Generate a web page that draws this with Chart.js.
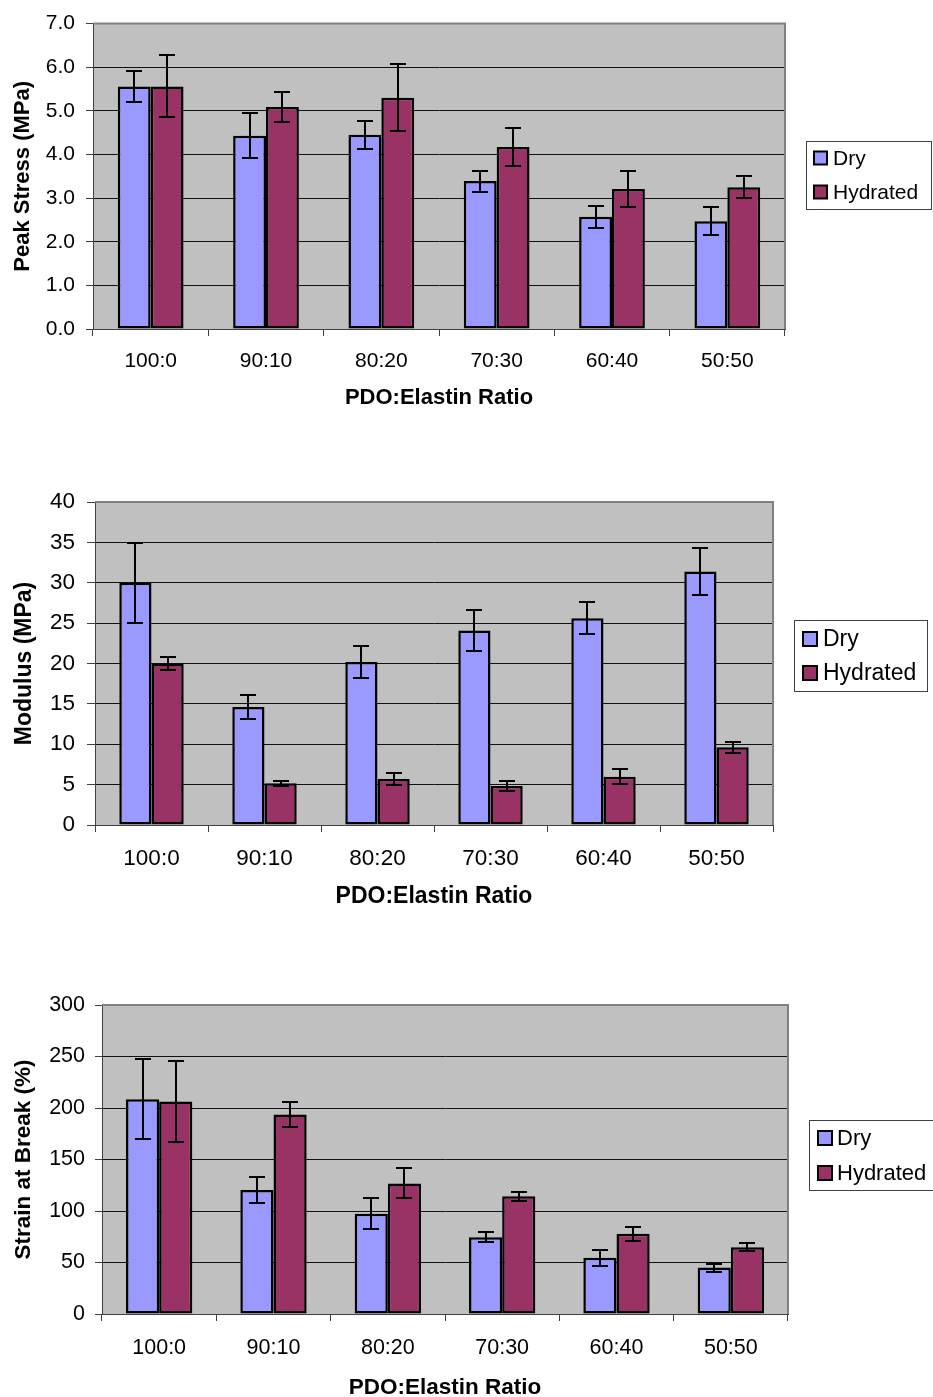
<!DOCTYPE html>
<html>
<head>
<meta charset="utf-8">
<script src="https://cdn.jsdelivr.net/npm/chart.js@4/dist/chart.umd.min.js"></script>
<style>
  html, body { margin: 0; padding: 0; background: #fff; overflow: hidden; }
  body { width: 933px; height: 1397px; position: relative; }
  .box { position: absolute; left: 0; width: 933px; }
  .box canvas { display: block; }
</style>
</head>
<body>
<div class="box" style="top:0;height:466px"><canvas id="stress"></canvas></div>
<div class="box" style="top:466px;height:466px"><canvas id="modulus"></canvas></div>
<div class="box" style="top:932px;height:480px"><canvas id="strain"></canvas></div>
<script>
// categories
const ratios = ['100:0', '90:10', '80:20', '70:30', '60:40', '50:50'];
const seriesNames = ['Dry', 'Hydrated'];

// peak stress (MPa)
const stressDry = [5.56, 4.43, 4.45, 3.39, 2.57, 2.47];
const stressDryErr = [0.35, 0.51, 0.32, 0.24, 0.25, 0.32];
const stressHyd = [5.56, 5.09, 5.30, 4.17, 3.21, 3.25];
const stressHydErr = [0.71, 0.35, 0.77, 0.44, 0.42, 0.25];

// modulus (MPa)
const modulusDry = [30.0, 14.6, 20.2, 24.1, 25.6, 31.4];
const modulusDryErr = [4.95, 1.5, 2.0, 2.55, 2.0, 2.9];
const modulusHyd = [20.0, 5.16, 5.70, 4.83, 5.99, 9.62];
const modulusHydErr = [0.75, 0.33, 0.8, 0.6, 0.9, 0.7];

// strain at break (%)
const strainDry = [208.5, 120.3, 97.3, 74.6, 54.5, 45.1];
const strainDryErr = [39, 12.7, 15.2, 4.9, 7.5, 3.9];
const strainHyd = [206.3, 193.6, 126.8, 114.2, 77.8, 64.9];
const strainHydErr = [39, 12.3, 14.6, 4.5, 7.1, 4.2];

const FONT = '"Liberation Sans", Arial, sans-serif';
const DRY = '#9999ff';
const HYD = '#993366';

const plotFrame = {
  id: 'plotFrame',
  beforeDraw(chart) {
    const a = chart.chartArea, ctx = chart.ctx;
    ctx.save();
    ctx.fillStyle = '#c0c0c0';
    ctx.fillRect(a.left, a.top, a.right - a.left, a.bottom - a.top);
    ctx.restore();
  },
  beforeDatasetsDraw(chart) {
    const a = chart.chartArea, ctx = chart.ctx;
    ctx.save();
    ctx.strokeStyle = '#808080';
    ctx.lineWidth = 2;
    ctx.beginPath();
    ctx.moveTo(a.left, a.top);
    ctx.lineTo(a.right, a.top);
    ctx.lineTo(a.right, a.bottom);
    ctx.stroke();
    ctx.restore();
  },
};

const errorBars = {
  id: 'errorBars',
  afterDatasetsDraw(chart) {
    const ctx = chart.ctx, y = chart.scales.y;
    ctx.save();
    ctx.strokeStyle = '#000';
    ctx.lineWidth = 2;
    chart.data.datasets.forEach((ds, di) => {
      chart.getDatasetMeta(di).data.forEach((bar, i) => {
        const v = ds.data[i], e = ds.errors[i];
        const top = Math.round(y.getPixelForValue(v + e)), bot = Math.round(y.getPixelForValue(v - e));
        const x = Math.round(bar.x);
        ctx.beginPath();
        ctx.moveTo(x, top); ctx.lineTo(x, bot);
        ctx.moveTo(x - 8, top); ctx.lineTo(x + 8, top);
        ctx.moveTo(x - 8, bot); ctx.lineTo(x + 8, bot);
        ctx.stroke();
      });
    });
    ctx.restore();
  },
};

const boxLegend = {
  id: 'boxLegend',
  afterDraw(chart, args, opts) {
    const ctx = chart.ctx;
    const { x, y, w, h, rows, swatchX, swatch, textX, size } = opts;
    ctx.save();
    ctx.fillStyle = '#fff';
    ctx.fillRect(x, y, w, h);
    ctx.strokeStyle = '#404040';
    ctx.lineWidth = 1;
    ctx.strokeRect(x + 0.5, y + 0.5, w, h);
    ctx.font = size + 'px ' + FONT;
    ctx.textBaseline = 'middle';
    chart.data.datasets.forEach((ds, i) => {
      const cy = rows[i];
      ctx.fillStyle = ds.backgroundColor;
      ctx.fillRect(swatchX, cy - swatch / 2, swatch, swatch);
      ctx.strokeStyle = '#000';
      ctx.lineWidth = 2;
      ctx.strokeRect(swatchX, cy - swatch / 2, swatch, swatch);
      ctx.fillStyle = '#000';
      ctx.fillText(ds.label, textX, cy + 1);
    });
    ctx.restore();
  },
};

function makeChart(id, cfg) {
  const H = cfg.height;
  return new Chart(document.getElementById(id), {
    type: 'bar',
    data: {
      labels: ratios,
      datasets: [
        { label: seriesNames[0], data: cfg.dry, errors: cfg.dryErr, backgroundColor: DRY },
        { label: seriesNames[1], data: cfg.hyd, errors: cfg.hydErr, backgroundColor: HYD },
      ].map((d) => ({ ...d, borderColor: '#000', borderWidth: 2.5, borderSkipped: false,
        categoryPercentage: cfg.catPct, barPercentage: 1.0 })),
    },
    options: {
      responsive: true,
      maintainAspectRatio: false,
      animation: false,
      events: [],
      layout: { padding: { left: 0, top: cfg.area.top, right: 933 - cfg.area.right, bottom: 0 } },
      scales: {
        x: {
          afterFit: (s) => { s.height = H - cfg.area.bottom; },
          grid: { display: true, offset: true, drawOnChartArea: false, tickLength: 7, tickColor: '#404040', tickWidth: 1 },
          border: { color: '#404040', width: 1 },
          ticks: { color: '#000', padding: cfg.xTickPad, font: { family: FONT, size: cfg.tickSize } },
          title: { display: true, text: 'PDO:Elastin Ratio', color: '#000',
            font: { family: FONT, size: cfg.titleSize, weight: 'bold' }, padding: { top: 0, bottom: cfg.xTitlePad } },
        },
        y: {
          min: 0,
          max: cfg.max,
          afterFit: (s) => { s.width = cfg.area.left; },
          grid: { color: '#111', lineWidth: 1, tickLength: cfg.yTickLen, tickColor: '#404040' },
          border: { color: '#404040', width: 1 },
          ticks: { stepSize: cfg.step, color: '#000', padding: cfg.yTickPad,
            font: { family: FONT, size: cfg.tickSize },
            callback: (v) => cfg.decimals ? v.toFixed(cfg.decimals) : v },
          title: { display: true, text: cfg.yTitle, color: '#000',
            font: { family: FONT, size: cfg.yTitleSize, weight: 'bold' }, padding: { top: cfg.yTitlePad, bottom: 0 } },
        },
      },
      plugins: {
        legend: { display: false },
        tooltip: { enabled: false },
        boxLegend: cfg.legend,
      },
    },
    plugins: [plotFrame, errorBars, boxLegend],
  });
}

makeChart('stress', {
  height: 466,
  area: { left: 93, right: 785, top: 21, bottom: 329 },
  dry: stressDry, dryErr: stressDryErr, hyd: stressHyd, hydErr: stressHydErr,
  max: 7, step: 1, decimals: 1, catPct: 0.57,
  tickSize: 21, titleSize: 22, yTitleSize: 22,
  xTickPad: 13, yTickPad: 11, yTickLen: 7, xTitlePad: 55, yTitlePad: 10,
  yTitle: 'Peak Stress (MPa)',
  legend: { x: 806, y: 141, w: 125, h: 68, rows: [158, 192], swatchX: 814, swatch: 13, textX: 833, size: 21 },
});

makeChart('modulus', {
  height: 466,
  area: { left: 95, right: 773, top: 36, bottom: 359 },
  dry: modulusDry, dryErr: modulusDryErr, hyd: modulusHyd, hydErr: modulusHydErr,
  max: 40, step: 5, decimals: 0, catPct: 0.57,
  tickSize: 22.5, titleSize: 23, yTitleSize: 23,
  xTickPad: 13, yTickPad: 12, yTickLen: 8, xTitlePad: 22, yTitlePad: 11,
  yTitle: 'Modulus (MPa)',
  legend: { x: 794, y: 154, w: 133, h: 71, rows: [173, 207], swatchX: 803, swatch: 14, textX: 823, size: 23 },
});

makeChart('strain', {
  height: 480,
  area: { left: 102, right: 788, top: 73, bottom: 382 },
  dry: strainDry, dryErr: strainDryErr, hyd: strainHyd, hydErr: strainHydErr,
  max: 300, step: 50, decimals: 0, catPct: 0.58,
  tickSize: 21.5, titleSize: 22.5, yTitleSize: 22.5,
  xTickPad: 14, yTickPad: 10, yTickLen: 7, xTitlePad: 11, yTitlePad: 10.5,
  yTitle: 'Strain at Break (%)',
  legend: { x: 809, y: 188, w: 126, h: 70, rows: [206, 241], swatchX: 818, swatch: 14, textX: 837, size: 22 },
});
</script>
</body>
</html>
